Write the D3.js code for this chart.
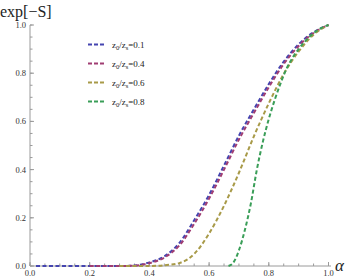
<!DOCTYPE html>
<html><head><meta charset="utf-8">
<script src="https://cdn.jsdelivr.net/npm/d3@7"></script>
<style>body{margin:0;background:#fff}svg{display:block}</style>
</head><body><svg id="c" width="349" height="279"></svg>
<script>
const seriesNames = ["0.1","0.4","0.6","0.8"];
const colors = ["#4545b0","#a03d72","#a89a48","#3a9e58"];
const alpha1 = [0.02,0.1,0.2,0.3,0.35,0.4,0.45,0.5,0.55,0.6,0.65,0.7,0.75,0.8,0.85,0.9,0.95,1.0];
const vals1  = [0,0,0,0,0.002,0.015,0.04,0.095,0.19,0.295,0.417,0.541,0.65,0.755,0.848,0.92,0.97,1.0];
const alpha2 = [0.2,0.3,0.35,0.4,0.45,0.5,0.55,0.6,0.65,0.7,0.75,0.8,0.85,0.9,0.95,1.0];
const vals2  = [0,0,0.0015,0.012,0.035,0.085,0.175,0.28,0.40,0.525,0.635,0.742,0.838,0.913,0.967,1.0];
const alpha3 = [0.3,0.4,0.45,0.5,0.55,0.6,0.65,0.7,0.75,0.8,0.85,0.9,0.95,1.0];
const vals3  = [0,0,0.003,0.012,0.05,0.135,0.25,0.387,0.538,0.675,0.797,0.89,0.96,1.0];
const alpha4 = [0.665,0.68,0.7,0.72,0.74,0.76,0.78,0.8,0.82,0.84,0.86,0.88,0.9,0.92,0.94,0.96,0.98,1.0];
const vals4  = [0,0.012,0.065,0.15,0.26,0.40,0.515,0.61,0.69,0.76,0.82,0.865,0.90,0.93,0.955,0.975,0.99,1.0];
const xTicks = [0,0.2,0.4,0.6,0.8,1.0];
const yTicks = [0,0.2,0.4,0.6,0.8,1.0];
const xTickLabels = ["0.0","0.2","0.4","0.6","0.8","1.0"];
const yTickLabels = ["0.0","0.2","0.4","0.6","0.8","1.0"];

const series = [[alpha1,vals1],[alpha2,vals2],[alpha3,vals3],[alpha4,vals4]];
const svg = d3.select("#c");
const x = d3.scaleLinear().domain([0,1]).range([30,328.5]);
const y = d3.scaleLinear().domain([0,1]).range([266,25]);
const axisCol = "#9a9a9a";
const font = "Liberation Serif, Times New Roman, serif";

// axes
const gx = svg.append("g").attr("transform","translate(0,266)");
gx.append("line").attr("x1",30).attr("x2",331).attr("stroke",axisCol).attr("stroke-width",1);
const minor = d3.range(0,1.0001,0.05);
gx.selectAll("line.mn").data(minor).join("line").attr("class","mn")
  .attr("x1",d=>x(d)).attr("x2",d=>x(d)).attr("y1",0).attr("y2",-2.5).attr("stroke",axisCol);
gx.selectAll("line.mj").data(xTicks).join("line").attr("class","mj")
  .attr("x1",d=>x(d)).attr("x2",d=>x(d)).attr("y1",0).attr("y2",-4).attr("stroke",axisCol);
gx.selectAll("text").data(xTicks).join("text")
  .attr("x",d=>x(d)).attr("y",10).attr("text-anchor","middle")
  .attr("font-family",font).attr("font-size",8.5).attr("fill","#333")
  .text((d,i)=>xTickLabels[i]);

const gy = svg.append("g").attr("transform","translate(30,0)");
gy.append("line").attr("y1",266).attr("y2",25).attr("stroke",axisCol);
gy.selectAll("line.mn").data(minor).join("line").attr("class","mn")
  .attr("y1",d=>y(d)).attr("y2",d=>y(d)).attr("x1",0).attr("x2",2.5).attr("stroke",axisCol);
gy.selectAll("line.mj").data(yTicks).join("line").attr("class","mj")
  .attr("y1",d=>y(d)).attr("y2",d=>y(d)).attr("x1",0).attr("x2",4).attr("stroke",axisCol);
gy.selectAll("text").data(yTicks).join("text")
  .attr("x",-4).attr("y",d=>y(d)+3).attr("text-anchor","end")
  .attr("font-family",font).attr("font-size",8.5).attr("fill","#333")
  .text((d,i)=>yTickLabels[i]);

// titles
svg.append("text").attr("x",0).attr("y",17).attr("font-family",font).attr("font-size",16).attr("fill","#222").text("exp[\u2212S]");
svg.append("text").attr("x",335).attr("y",271).attr("font-family",font).attr("font-style","italic").attr("font-size",17).attr("fill","#222").text("\u03b1");

// curves
const line = d3.line().x(d=>x(d[0])).y(d=>y(d[1])).curve(d3.curveMonotoneX);
series.forEach((s,i)=>{
  const pts = s[0].map((a,j)=>[a,s[1][j]]);
  svg.append("path").attr("d",line(pts)).attr("fill","none")
    .attr("stroke",colors[i]).attr("stroke-width",2).attr("stroke-dasharray","4,2.5");
});

// legend
const lg = svg.append("g");
seriesNames.forEach((n,i)=>{
  const yy = 44.5 + i*19;
  lg.append("line").attr("x1",88).attr("x2",104).attr("y1",yy).attr("y2",yy)
    .attr("stroke",colors[i]).attr("stroke-width",2).attr("stroke-dasharray","4,2");
  const t = lg.append("text").attr("x",112).attr("y",yy+3).attr("font-family",font).attr("font-size",9).attr("fill","#222");
  t.append("tspan").text("z");
  t.append("tspan").attr("font-size",6.5).attr("dy",2).text("0");
  t.append("tspan").attr("dy",-2).text("/z");
  t.append("tspan").attr("font-size",6.5).attr("dy",2).text("s");
  t.append("tspan").attr("dy",-2).text("="+n);
});
</script></body></html>
